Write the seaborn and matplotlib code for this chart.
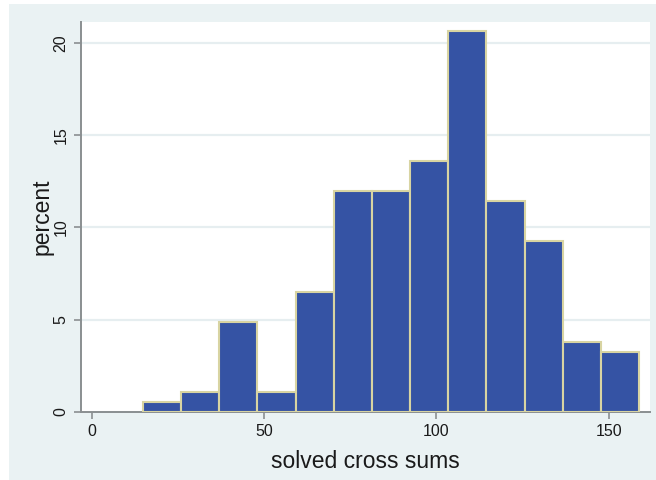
import numpy as np
import pandas as pd
import matplotlib
matplotlib.use("Agg")
import matplotlib.pyplot as plt
from matplotlib.patches import Rectangle
import seaborn as sns

# histogram of solved cross sums, 13 bins (percent of 184 puzzles)
bin_start = 14.8
bin_width = 11.08
percent = [0.54, 1.09, 4.89, 1.09, 6.52, 11.96, 11.96, 13.59, 20.65,
           11.41, 9.24, 3.80, 3.26]
x_ticks = [0, 50, 100, 150]
y_ticks = [0, 5, 10, 15, 20]

edges = [bin_start + bin_width * i for i in range(len(percent) + 1)]
centers = [(a + b) / 2 for a, b in zip(edges[:-1], edges[1:])]
df = pd.DataFrame({"sums": centers, "percent": percent})

sns.set_theme(style="white")
plt.rcParams["font.family"] = ["Liberation Sans", "DejaVu Sans"]

BG = "#EAF2F3"
BAR = "#3553A4"
EDGE = "#D8D4A2"
AXC = "#8A8F91"

fig = plt.figure(figsize=(6.56, 4.8), dpi=100)
fig.patch.set_facecolor("white")
fig.patches.append(Rectangle((9 / 656, 0), 1, 1 - 4 / 480,
                             transform=fig.transFigure, facecolor=BG,
                             edgecolor="none", zorder=-10))

ax = fig.add_axes([81 / 656, 1 - 411.7 / 480, 569 / 656, 389.7 / 480])
ax.set_facecolor("white")

sns.histplot(data=df, x="sums", weights="percent", bins=edges, ax=ax,
             color=BAR, alpha=1, edgecolor=EDGE, linewidth=1.5, zorder=3)

ax.set_xlim(-3.2, 162)
ax.set_ylim(0, 21.15)
ax.set_xticks(x_ticks)
ax.set_yticks(y_ticks)
ax.set_yticklabels([str(t) for t in y_ticks], rotation=90, va="center")

for t in y_ticks[1:]:
    ax.axhline(t, color="#E6EEF0", linewidth=1.6, zorder=1)

for side in ["top", "right"]:
    ax.spines[side].set_visible(False)
for side in ["left", "bottom"]:
    ax.spines[side].set_color(AXC)
    ax.spines[side].set_linewidth(1.4)

ax.tick_params(axis="both", which="major", direction="out", length=5,
               width=1.2, color=AXC, labelsize=11.5, labelcolor="#1a1a1a",
               bottom=True, left=True, pad=4)

ax.set_xlabel("solved cross sums", fontsize=16.5, color="#1a1a1a", labelpad=8)
ax.set_ylabel("percent", fontsize=16.5, color="#1a1a1a", labelpad=0)

fig.savefig("out.png", dpi=100)
